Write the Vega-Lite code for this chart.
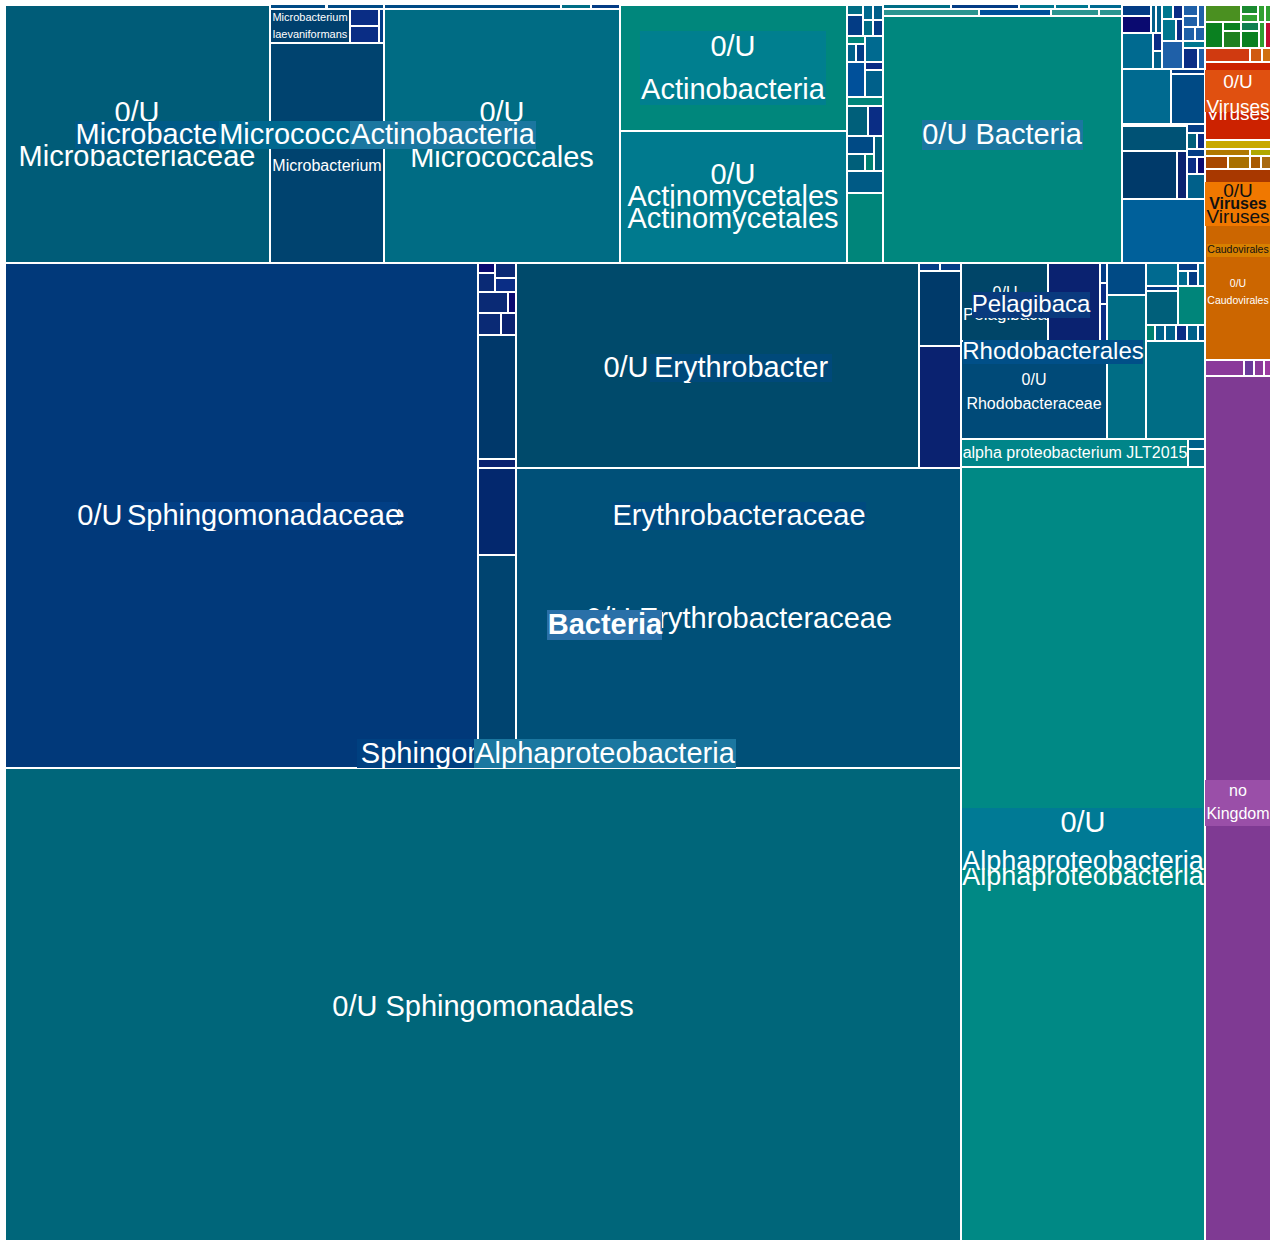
{
  "$schema": "https://vega.github.io/schema/vega-lite/v6.json",
  "width": 1270,
  "height": 1240,
  "padding": 0,
  "autosize": {"type": "none"},
  "background": "white",
  "config": {"view": {"stroke": null}, "text": {"font": "Liberation Sans"}},
  "datasets": {
    "cells": [
      {"k":"Microbacteriaceae","x0":5,"x1":270,"y0":5,"y1":263},
      {"k":"m7","x0":270,"x1":326,"y0":4,"y1":9},{"k":"m7","x0":327,"x1":384,"y0":4,"y1":9},{"k":"m7","x0":384,"x1":561,"y0":4,"y1":9},{"k":"m3","x0":561,"x1":591,"y0":4,"y1":9},{"k":"m8","x0":591,"x1":621,"y0":4,"y1":9},
      {"k":"laevaniformans","x0":270,"x1":350,"y0":9,"y1":43},
      {"k":"m9","x0":350,"x1":379,"y0":9,"y1":26},{"k":"m9","x0":350,"x1":379,"y0":26,"y1":43},{"k":"m8","x0":379,"x1":384,"y0":9,"y1":43},
      {"k":"Microbacterium","x0":270,"x1":384,"y0":43,"y1":263},
      {"k":"Micrococcales","x0":384,"x1":620,"y0":9,"y1":263},
      {"k":"Actinobacteria","x0":620,"x1":847,"y0":5,"y1":131},
      {"k":"Actinomycetales","x0":620,"x1":847,"y0":131,"y1":263},
      {"k":"m3","x0":847,"x1":863,"y0":5,"y1":15},{"k":"m16","x0":863,"x1":873,"y0":5,"y1":20},{"k":"m4","x0":873,"x1":883,"y0":5,"y1":20},
      {"k":"m8","x0":847,"x1":863,"y0":15,"y1":36},{"k":"m3","x0":863,"x1":873,"y0":20,"y1":36},{"k":"m8","x0":873,"x1":883,"y0":20,"y1":36},
      {"k":"m1","x0":847,"x1":865,"y0":36,"y1":44},{"k":"m16","x0":865,"x1":883,"y0":36,"y1":62},
      {"k":"m4","x0":847,"x1":856,"y0":44,"y1":62},{"k":"m8","x0":856,"x1":865,"y0":44,"y1":62},
      {"k":"m6","x0":847,"x1":865,"y0":62,"y1":97},{"k":"m9","x0":865,"x1":883,"y0":62,"y1":70},{"k":"m4","x0":865,"x1":883,"y0":70,"y1":97},
      {"k":"m1","x0":847,"x1":883,"y0":97,"y1":106},
      {"k":"m5","x0":847,"x1":868,"y0":106,"y1":136},{"k":"m9","x0":868,"x1":883,"y0":106,"y1":136},
      {"k":"m7","x0":847,"x1":874,"y0":136,"y1":154},{"k":"m5","x0":874,"x1":883,"y0":136,"y1":171},
      {"k":"m5","x0":847,"x1":865,"y0":154,"y1":171},{"k":"m22","x0":865,"x1":874,"y0":154,"y1":171},
      {"k":"m23","x0":847,"x1":883,"y0":171,"y1":193},
      {"k":"m1","x0":847,"x1":883,"y0":193,"y1":263},
      {"k":"m3","x0":883,"x1":951,"y0":4,"y1":9},{"k":"m8","x0":951,"x1":1019,"y0":4,"y1":9},{"k":"m2","x0":1019,"x1":1055,"y0":4,"y1":9},{"k":"m2","x0":1055,"x1":1089,"y0":4,"y1":9},{"k":"m16","x0":1089,"x1":1122,"y0":4,"y1":9},
      {"k":"m15","x0":883,"x1":979,"y0":9,"y1":16},{"k":"m6","x0":979,"x1":1051,"y0":9,"y1":16},{"k":"m15","x0":1051,"x1":1099,"y0":9,"y1":16},{"k":"m15","x0":1099,"x1":1122,"y0":9,"y1":16},
      {"k":"Bacteria","x0":883,"x1":1122,"y0":16,"y1":263},
      {"k":"m8","x0":1122,"x1":1151,"y0":5,"y1":16},{"k":"m10","x0":1122,"x1":1151,"y0":16,"y1":33},
      {"k":"m4","x0":1151,"x1":1156,"y0":5,"y1":33},{"k":"m4","x0":1156,"x1":1162,"y0":5,"y1":33},
      {"k":"m2","x0":1162,"x1":1173,"y0":5,"y1":19},{"k":"m9","x0":1173,"x1":1183,"y0":5,"y1":19},
      {"k":"m2","x0":1162,"x1":1176,"y0":19,"y1":41},{"k":"m9","x0":1176,"x1":1183,"y0":19,"y1":41},
      {"k":"m11","x0":1183,"x1":1198,"y0":5,"y1":16},{"k":"m11","x0":1183,"x1":1198,"y0":16,"y1":27},{"k":"m11","x0":1198,"x1":1205,"y0":5,"y1":27},
      {"k":"m11","x0":1183,"x1":1195,"y0":27,"y1":41},{"k":"m11","x0":1195,"x1":1205,"y0":27,"y1":41},
      {"k":"m16","x0":1122,"x1":1153,"y0":33,"y1":69},
      {"k":"m9","x0":1153,"x1":1162,"y0":33,"y1":51},{"k":"m4","x0":1153,"x1":1162,"y0":51,"y1":69},
      {"k":"m11","x0":1162,"x1":1183,"y0":41,"y1":69},
      {"k":"m2","x0":1183,"x1":1205,"y0":41,"y1":48},{"k":"m9","x0":1183,"x1":1198,"y0":48,"y1":69},{"k":"m11","x0":1198,"x1":1205,"y0":48,"y1":69},
      {"k":"m16","x0":1122,"x1":1171,"y0":69,"y1":124},{"k":"m8","x0":1171,"x1":1205,"y0":69,"y1":74},{"k":"m7","x0":1171,"x1":1205,"y0":74,"y1":124},
      {"k":"m21","x0":1122,"x1":1187,"y0":126,"y1":151},{"k":"m8","x0":1187,"x1":1205,"y0":124,"y1":133},{"k":"m5","x0":1187,"x1":1197,"y0":133,"y1":149},{"k":"m9","x0":1197,"x1":1205,"y0":133,"y1":149},
      {"k":"m12","x0":1122,"x1":1177,"y0":151,"y1":199},{"k":"m13","x0":1177,"x1":1187,"y0":151,"y1":199},
      {"k":"m8","x0":1187,"x1":1205,"y0":149,"y1":157},{"k":"m9","x0":1187,"x1":1197,"y0":157,"y1":174},{"k":"m10","x0":1197,"x1":1205,"y0":157,"y1":174},{"k":"m4","x0":1187,"x1":1205,"y0":174,"y1":199},
      {"k":"m14","x0":1122,"x1":1205,"y0":199,"y1":263},
      {"k":"g1","x0":1205,"x1":1241,"y0":5,"y1":22},{"k":"g2","x0":1241,"x1":1258,"y0":5,"y1":14},{"k":"g5","x0":1241,"x1":1258,"y0":14,"y1":22},{"k":"g5","x0":1258,"x1":1265,"y0":5,"y1":22},{"k":"g5","x0":1265,"x1":1271,"y0":5,"y1":22},
      {"k":"g3","x0":1205,"x1":1223,"y0":22,"y1":48},{"k":"g3","x0":1223,"x1":1241,"y0":22,"y1":31},{"k":"g6","x0":1223,"x1":1241,"y0":31,"y1":48},{"k":"g4","x0":1241,"x1":1259,"y0":22,"y1":31},{"k":"g3","x0":1241,"x1":1259,"y0":31,"y1":48},{"k":"g5","x0":1259,"x1":1265,"y0":22,"y1":48},{"k":"r1","x0":1265,"x1":1271,"y0":22,"y1":48},
      {"k":"o1","x0":1205,"x1":1250,"y0":48,"y1":62},{"k":"o2","x0":1250,"x1":1262,"y0":48,"y1":62},{"k":"o3","x0":1262,"x1":1271,"y0":48,"y1":62},
      {"k":"Viruses","x0":1205,"x1":1271,"y0":62,"y1":140},
      {"k":"y1","x0":1205,"x1":1271,"y0":140,"y1":149},
      {"k":"y2","x0":1205,"x1":1250,"y0":149,"y1":156},{"k":"y3","x0":1250,"x1":1271,"y0":149,"y1":156},
      {"k":"b1","x0":1205,"x1":1228,"y0":156,"y1":169},{"k":"b2","x0":1228,"x1":1250,"y0":156,"y1":169},{"k":"b3","x0":1250,"x1":1261,"y0":156,"y1":169},{"k":"b4","x0":1261,"x1":1271,"y0":156,"y1":169},
      {"k":"Viruses order","x0":1205,"x1":1271,"y0":169,"y1":216},
      {"k":"Caudovirales","x0":1205,"x1":1271,"y0":216,"y1":360},
      {"k":"p1","x0":1205,"x1":1244,"y0":360,"y1":376},{"k":"p2","x0":1244,"x1":1254,"y0":360,"y1":376},{"k":"p1","x0":1254,"x1":1264,"y0":360,"y1":376},{"k":"p3","x0":1264,"x1":1271,"y0":360,"y1":376},
      {"k":"no Kingdom","x0":1205,"x1":1271,"y0":376,"y1":1241},
      {"k":"Sphingomonadaceae","x0":5,"x1":478,"y0":263,"y1":768},
      {"k":"m10","x0":478,"x1":495,"y0":263,"y1":273},{"k":"m17","x0":478,"x1":495,"y0":273,"y1":292},{"k":"m17","x0":495,"x1":516,"y0":263,"y1":278},{"k":"m9","x0":495,"x1":516,"y0":278,"y1":292},
      {"k":"m17","x0":478,"x1":508,"y0":292,"y1":313},{"k":"m10","x0":508,"x1":516,"y0":292,"y1":313},
      {"k":"m17","x0":478,"x1":501,"y0":313,"y1":335},{"k":"m13","x0":501,"x1":516,"y0":313,"y1":335},
      {"k":"m20","x0":478,"x1":516,"y0":335,"y1":459},
      {"k":"m13","x0":478,"x1":516,"y0":459,"y1":468},
      {"k":"m18","x0":478,"x1":516,"y0":468,"y1":555},
      {"k":"m19","x0":478,"x1":516,"y0":555,"y1":768},
      {"k":"Erythrobacter","x0":516,"x1":919,"y0":263,"y1":468},
      {"k":"m8","x0":919,"x1":940,"y0":263,"y1":271},{"k":"m8","x0":940,"x1":961,"y0":263,"y1":271},{"k":"m12","x0":919,"x1":961,"y0":271,"y1":346},{"k":"m13","x0":919,"x1":961,"y0":346,"y1":468},
      {"k":"Erythrobacteraceae","x0":516,"x1":961,"y0":468,"y1":768},
      {"k":"Pelagibaca","x0":961,"x1":1048,"y0":263,"y1":341},
      {"k":"m13","x0":1048,"x1":1100,"y0":263,"y1":341},
      {"k":"m8","x0":1100,"x1":1107,"y0":263,"y1":283},{"k":"m9","x0":1100,"x1":1107,"y0":283,"y1":304},{"k":"m9","x0":1100,"x1":1107,"y0":304,"y1":341},
      {"k":"Rhodobacteraceae","x0":961,"x1":1107,"y0":341,"y1":439},
      {"k":"m7","x0":1107,"x1":1146,"y0":263,"y1":295},{"k":"m3","x0":1107,"x1":1146,"y0":295,"y1":439},
      {"k":"m16","x0":1146,"x1":1178,"y0":263,"y1":286},{"k":"m8","x0":1146,"x1":1178,"y0":286,"y1":291},{"k":"m5","x0":1146,"x1":1178,"y0":291,"y1":325},
      {"k":"m8","x0":1178,"x1":1198,"y0":263,"y1":271},{"k":"m16","x0":1178,"x1":1188,"y0":271,"y1":286},{"k":"m8","x0":1188,"x1":1198,"y0":271,"y1":286},{"k":"m16","x0":1198,"x1":1205,"y0":263,"y1":286},
      {"k":"m1","x0":1178,"x1":1205,"y0":286,"y1":325},
      {"k":"m22","x0":1146,"x1":1155,"y0":325,"y1":341},{"k":"m4","x0":1155,"x1":1165,"y0":325,"y1":341},{"k":"m4","x0":1165,"x1":1176,"y0":325,"y1":341},{"k":"m9","x0":1176,"x1":1187,"y0":325,"y1":341},{"k":"m4","x0":1187,"x1":1198,"y0":325,"y1":341},{"k":"m7","x0":1198,"x1":1205,"y0":325,"y1":341},
      {"k":"m3","x0":1146,"x1":1205,"y0":341,"y1":439},
      {"k":"JLT2015","x0":961,"x1":1188,"y0":439,"y1":467},{"k":"m4","x0":1188,"x1":1205,"y0":439,"y1":449},{"k":"m3","x0":1188,"x1":1205,"y0":449,"y1":467},
      {"k":"Alphaproteobacteria","x0":961,"x1":1205,"y0":467,"y1":1241},
      {"k":"Sphingomonadales","x0":5,"x1":961,"y0":768,"y1":1241}
    ],
    "boxes": [
      {"k":"Microbacteriaceae label","x0":75,"x1":313,"y0":121,"y1":149,"tier":1},
      {"k":"Actinobacteria cell label","x0":640,"x1":826,"y0":31,"y1":105,"tier":1},
      {"k":"Bacteria label","x0":922,"x1":1083,"y0":120,"y1":150,"tier":1},
      {"k":"Viruses label","x0":1205,"x1":1270,"y0":70,"y1":112,"tier":1},
      {"k":"Viruses order label","x0":1205,"x1":1270,"y0":182,"y1":226,"tier":1},
      {"k":"Caudovirales label","x0":1207,"x1":1270,"y0":244,"y1":257,"tier":1},
      {"k":"Sphingomonadaceae label","x0":130,"x1":398,"y0":502,"y1":530,"tier":1},
      {"k":"Erythrobacter label","x0":650,"x1":832,"y0":354,"y1":382,"tier":1},
      {"k":"Erythrobacteraceae label","x0":612,"x1":866,"y0":502,"y1":530,"tier":1},
      {"k":"Bacteria bold label","x0":547,"x1":662,"y0":610,"y1":640,"tier":1},
      {"k":"Sphingomonadales label","x0":357,"x1":611,"y0":739,"y1":768,"tier":1},
      {"k":"Alphaproteobacteria cell label","x0":962,"x1":1203,"y0":808,"y1":868,"tier":1},
      {"k":"no Kingdom label","x0":1205,"x1":1270,"y0":780,"y1":826,"tier":1},
      {"k":"Pelagibaca label","x0":972,"x1":1090,"y0":292,"y1":318,"tier":1},
      {"k":"Rhodobacterales label","x0":963,"x1":1143,"y0":340,"y1":364,"tier":1},
      {"k":"Micrococcales label","x0":219,"x1":404,"y0":121,"y1":149,"tier":2},
      {"k":"Alphaproteobacteria label","x0":474,"x1":736,"y0":739,"y1":768,"tier":2},
      {"k":"Actinobacteria label","x0":350,"x1":536,"y0":121,"y1":149,"tier":3}
    ],
    "labels": [
      {"t":"0/U","x":137,"y":113,"r":"L","tier":0,"ink":"light","b":false},
      {"t":"Microbacteriaceae","x":137,"y":157,"r":"L","tier":0,"ink":"light","b":false},
      {"t":"Microbacterium","x":327,"y":166,"r":"M","tier":0,"ink":"light","b":false},
      {"t":"Microbacterium","x":310,"y":18,"r":"S","tier":0,"ink":"light","b":false},
      {"t":"laevaniformans","x":310,"y":35,"r":"S","tier":0,"ink":"light","b":false},
      {"t":"0/U","x":502,"y":113,"r":"L","tier":0,"ink":"light","b":false},
      {"t":"Micrococcales","x":502,"y":158,"r":"L","tier":0,"ink":"light","b":false},
      {"t":"0/U","x":733,"y":175,"r":"L","tier":0,"ink":"light","b":false},
      {"t":"Actinomycetales","x":733,"y":219,"r":"L","tier":0,"ink":"light","b":false},
      {"t":"Actinomycetales","x":733,"y":197,"r":"L","tier":0,"ink":"light","b":false},
      {"t":"Viruses","x":1238,"y":114,"r":"R","tier":0,"ink":"light","b":false},
      {"t":"0/U","x":1238,"y":284,"r":"T","tier":0,"ink":"light","b":false},
      {"t":"Caudovirales","x":1238,"y":301,"r":"T","tier":0,"ink":"light","b":false},
      {"t":"0/U Sphingomonadaceae","x":241,"y":516,"r":"L","tier":0,"ink":"light","b":false},
      {"t":"0/U Erythrobacter","x":717,"y":368,"r":"L","tier":0,"ink":"light","b":false},
      {"t":"0/U Erythrobacteraceae","x":739,"y":619,"r":"L","tier":0,"ink":"light","b":false},
      {"t":"0/U Sphingomonadales","x":483,"y":1007,"r":"L","tier":0,"ink":"light","b":false},
      {"t":"Alphaproteobacteria","x":1083,"y":877,"r":"K","tier":0,"ink":"light","b":false},
      {"t":"0/U","x":1005,"y":293,"r":"M","tier":0,"ink":"light","b":false},
      {"t":"Pelagibaca","x":1005,"y":315,"r":"Q","tier":0,"ink":"light","b":false},
      {"t":"0/U","x":1034,"y":380,"r":"M","tier":0,"ink":"light","b":false},
      {"t":"Rhodobacteraceae","x":1034,"y":404,"r":"M","tier":0,"ink":"light","b":false},
      {"t":"alpha proteobacterium JLT2015","x":1075,"y":453,"r":"M","tier":0,"ink":"light","b":false},
      {"t":"Microbacteriaceae","x":194,"y":135,"r":"L","tier":1,"ink":"light","b":false},
      {"t":"0/U","x":733,"y":47,"r":"L","tier":1,"ink":"light","b":false},
      {"t":"Actinobacteria","x":733,"y":90,"r":"L","tier":1,"ink":"light","b":false},
      {"t":"0/U Bacteria","x":1002,"y":135,"r":"L","tier":1,"ink":"light","b":false},
      {"t":"0/U","x":1238,"y":82,"r":"R","tier":1,"ink":"light","b":false},
      {"t":"Viruses","x":1238,"y":107,"r":"R","tier":1,"ink":"light","b":false},
      {"t":"0/U","x":1238,"y":191,"r":"N","tier":1,"ink":"dark","b":false},
      {"t":"Viruses","x":1238,"y":204,"r":"M","tier":1,"ink":"dark","b":true},
      {"t":"Viruses","x":1238,"y":217,"r":"N","tier":1,"ink":"dark","b":false},
      {"t":"Caudovirales","x":1238,"y":250,"r":"T","tier":1,"ink":"dark","b":false},
      {"t":"Sphingomonadaceae","x":264,"y":516,"r":"L","tier":1,"ink":"light","b":false},
      {"t":"Erythrobacter","x":741,"y":368,"r":"L","tier":1,"ink":"light","b":false},
      {"t":"Erythrobacteraceae","x":739,"y":516,"r":"L","tier":1,"ink":"light","b":false},
      {"t":"Bacteria","x":605,"y":625,"r":"L","tier":1,"ink":"light","b":true},
      {"t":"Sphingomonadales","x":485,"y":754,"r":"L","tier":1,"ink":"light","b":false},
      {"t":"0/U","x":1083,"y":823,"r":"L","tier":1,"ink":"light","b":false},
      {"t":"Alphaproteobacteria","x":1083,"y":862,"r":"K","tier":1,"ink":"light","b":false},
      {"t":"no","x":1238,"y":791,"r":"M","tier":1,"ink":"light","b":false},
      {"t":"Kingdom","x":1238,"y":814,"r":"M","tier":1,"ink":"light","b":false},
      {"t":"Pelagibaca","x":1031,"y":305,"r":"P","tier":1,"ink":"light","b":false},
      {"t":"Rhodobacterales","x":1053,"y":352,"r":"P","tier":1,"ink":"light","b":false},
      {"t":"Micrococcales","x":311,"y":135,"r":"L","tier":2,"ink":"light","b":false},
      {"t":"Alphaproteobacteria","x":605,"y":754,"r":"L","tier":2,"ink":"light","b":false},
      {"t":"Actinobacteria","x":443,"y":135,"r":"L","tier":3,"ink":"light","b":false}
    ]
  },
  "resolve": {"scale": {"fill": "independent", "color": "independent"}},
  "layer": [
    {
      "data": {"name": "cells"},
      "mark": {"type": "rect", "stroke": "white", "strokeWidth": 2},
      "encoding": {
        "x": {"field": "x0", "type": "quantitative", "scale": {"domain": [0, 1270], "range": [0, 1270], "nice": false, "zero": false}, "axis": null},
        "x2": {"field": "x1"},
        "y": {"field": "y0", "type": "quantitative", "scale": {"domain": [0, 1240], "range": [0, 1240], "nice": false, "zero": false}, "axis": null},
        "y2": {"field": "y1"},
        "fill": {"field": "k", "type": "nominal", "legend": null, "scale": {
          "domain": ["Microbacteriaceae","Microbacterium","laevaniformans","Micrococcales","Actinobacteria","Actinomycetales","Bacteria","Sphingomonadaceae","Erythrobacter","Erythrobacteraceae","Sphingomonadales","Alphaproteobacteria","Pelagibaca","Rhodobacteraceae","JLT2015","Viruses","Viruses order","Caudovirales","no Kingdom","m1","m2","m3","m4","m5","m6","m7","m8","m9","m10","m11","m12","m13","m14","m15","m16","m17","m18","m19","m20","m21","m22","m23","g1","g2","g3","g4","g5","g6","r1","o1","o2","o3","y1","y2","y3","b1","b2","b3","b4","p1","p2","p3"],
          "range": ["#005c78","#00436f","#00406e","#006c84","#00877c","#007a8e","#00877e","#01397a","#004a6b","#005078","#00667a","#008985","#004568","#004a78","#008589","#cc2200","#a83800","#cc6600","#7f3a93","#00857a","#00778f","#006d85","#00608a","#005f7a","#00509a","#004a85","#033c85","#0a2d85","#0a0a70","#1f60a8","#003a6a","#0a2270","#00609a","#2a9590","#006a90","#0a2a75","#03286e","#004470","#00386a","#005275","#00806f","#005a85","#4a9020","#1a8a30","#0a8020","#108050","#30a030","#208020","#c01030","#d03a10","#d05a10","#d07010","#c8a800","#b07800","#b0a800","#a84800","#a87000","#a85a00","#a86a10","#8a3a9a","#6a3a9a","#9a3aa0"]
        }}
      }
    },
    {
      "data": {"name": "labels"},
      "transform": [{"filter": "datum.tier == 0"}],
      "mark": {"type": "text", "align": "center", "baseline": "middle", "font": "Liberation Sans",
        "fontSize": {"expr": "datum.r == 'L' ? 29 : datum.r == 'K' ? 27 : datum.r == 'P' ? 24 : datum.r == 'R' ? 19 : datum.r == 'N' ? 19 : datum.r == 'Q' ? 17 : datum.r == 'M' ? 16 : datum.r == 'S' ? 11 : 10.5"},
        "fontWeight": {"expr": "datum.b ? 'bold' : 'normal'"}},
      "encoding": {
        "x": {"field": "x", "type": "quantitative"},
        "y": {"field": "y", "type": "quantitative"},
        "text": {"field": "t"},
        "color": {"field": "ink", "type": "nominal", "legend": null, "scale": {"domain": ["light","dark"], "range": ["#ffffff","#111111"]}}
      }
    },
    {
      "data": {"name": "boxes"},
      "transform": [{"filter": "datum.tier == 1"}],
      "mark": {"type": "rect"},
      "encoding": {
        "x": {"field": "x0", "type": "quantitative"}, "x2": {"field": "x1"},
        "y": {"field": "y0", "type": "quantitative"}, "y2": {"field": "y1"},
        "fill": {"field": "k", "type": "nominal", "legend": null, "scale": {
          "domain": ["Microbacteriaceae label","Actinobacteria cell label","Bacteria label","Viruses label","Viruses order label","Caudovirales label","Sphingomonadaceae label","Erythrobacter label","Erythrobacteraceae label","Bacteria bold label","Sphingomonadales label","Alphaproteobacteria cell label","no Kingdom label","Pelagibaca label","Rhodobacterales label"],
          "range": ["#005a88","#007f8f","#1b77a0","#e05010","#f07800","#d88000","#023f85","#00497a","#004a80","#2a70a8","#004080","#007a95","#9a4fa8","#0a3a7e","#004f88"]
        }}
      }
    },
    {
      "data": {"name": "labels"},
      "transform": [{"filter": "datum.tier == 1"}],
      "mark": {"type": "text", "align": "center", "baseline": "middle", "font": "Liberation Sans",
        "fontSize": {"expr": "datum.r == 'L' ? 29 : datum.r == 'K' ? 27 : datum.r == 'P' ? 24 : datum.r == 'R' ? 19 : datum.r == 'N' ? 19 : datum.r == 'Q' ? 17 : datum.r == 'M' ? 16 : datum.r == 'S' ? 11 : 10.5"},
        "fontWeight": {"expr": "datum.b ? 'bold' : 'normal'"}},
      "encoding": {
        "x": {"field": "x", "type": "quantitative"},
        "y": {"field": "y", "type": "quantitative"},
        "text": {"field": "t"},
        "color": {"field": "ink", "type": "nominal", "legend": null, "scale": {"domain": ["light","dark"], "range": ["#ffffff","#111111"]}}
      }
    },
    {
      "data": {"name": "boxes"},
      "transform": [{"filter": "datum.tier == 2"}],
      "mark": {"type": "rect"},
      "encoding": {
        "x": {"field": "x0", "type": "quantitative"}, "x2": {"field": "x1"},
        "y": {"field": "y0", "type": "quantitative"}, "y2": {"field": "y1"},
        "fill": {"field": "k", "type": "nominal", "legend": null, "scale": {"domain": ["Micrococcales label","Alphaproteobacteria label"], "range": ["#00688f","#1b77a0"]}}
      }
    },
    {
      "data": {"name": "labels"},
      "transform": [{"filter": "datum.tier == 2"}],
      "mark": {"type": "text", "align": "center", "baseline": "middle", "font": "Liberation Sans", "fontSize": 29, "color": "white"},
      "encoding": {
        "x": {"field": "x", "type": "quantitative"},
        "y": {"field": "y", "type": "quantitative"},
        "text": {"field": "t"}
      }
    },
    {
      "data": {"name": "boxes"},
      "transform": [{"filter": "datum.tier == 3"}],
      "mark": {"type": "rect"},
      "encoding": {
        "x": {"field": "x0", "type": "quantitative"}, "x2": {"field": "x1"},
        "y": {"field": "y0", "type": "quantitative"}, "y2": {"field": "y1"},
        "fill": {"field": "k", "type": "nominal", "legend": null, "scale": {"domain": ["Actinobacteria label"], "range": ["#1b77a0"]}}
      }
    },
    {
      "data": {"name": "labels"},
      "transform": [{"filter": "datum.tier == 3"}],
      "mark": {"type": "text", "align": "center", "baseline": "middle", "font": "Liberation Sans", "fontSize": 29, "color": "white"},
      "encoding": {
        "x": {"field": "x", "type": "quantitative"},
        "y": {"field": "y", "type": "quantitative"},
        "text": {"field": "t"}
      }
    }
  ]
}
